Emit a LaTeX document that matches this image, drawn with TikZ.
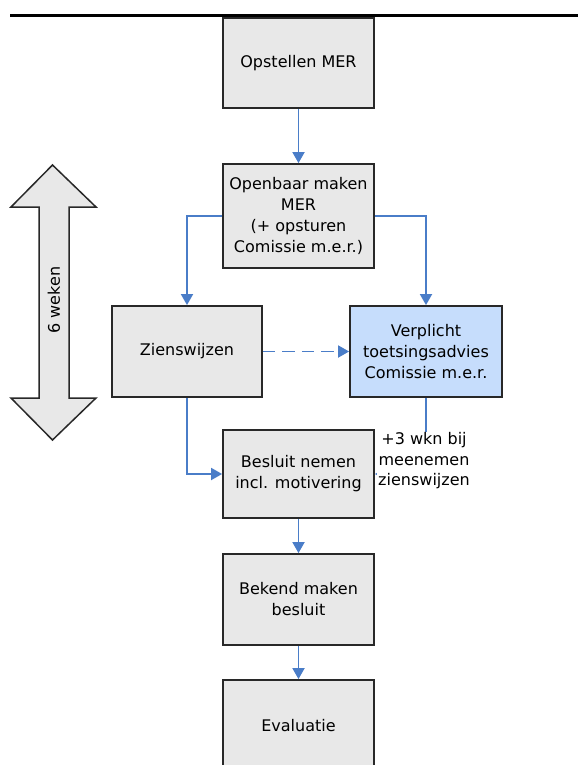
\documentclass[tikz,border=0pt]{standalone}
\usepackage{fontspec}
\setmainfont{DejaVu Sans}
\usetikzlibrary{arrows.meta}
\definecolor{boxfill}{RGB}{232,232,232}
\definecolor{boxline}{RGB}{40,40,40}
\definecolor{bluefill}{RGB}{198,221,252}
\definecolor{connblue}{RGB}{74,125,200}
\tikzset{
  box/.style={draw=boxline, fill=boxfill, line width=1.8pt, align=center, inner sep=2pt,
    font=\fontsize{16}{21}\selectfont},
  conn/.style={draw=connblue, line width=1.8pt, -{Triangle[length=11pt,width=12pt]}},
  lbl/.style={fill=white, align=center, inner sep=1pt, font=\fontsize{16}{20.5}\selectfont}
}
\begin{document}
\begin{tikzpicture}[x=1pt,y=-1pt]
\useasboundingbox (0,0) rectangle (578,765);
\fill[white] (0,0) rectangle (578,765);
% top rule
\draw[black, line width=3pt] (10,16) coordinate (rl) -- (578,16) coordinate (rr);
% boxes
\node[box, minimum width=151pt, minimum height=90pt] (b1) at (298.5,63) {Opstellen MER};
\node[box, minimum width=151pt, minimum height=104pt] (b2) at (298.5,216) {Openbaar maken\\MER\\(+ opsturen\\Comissie m.e.r.)};
\node[box, minimum width=150pt, minimum height=91pt] (zien) at (187,351.5) {Zienswijzen};
\node[box, fill=bluefill, minimum width=152pt, minimum height=91pt] (verp) at (426,351.5) {Verplicht\\toetsingsadvies\\Comissie m.e.r.};
\node[box, minimum width=151pt, minimum height=88pt] (besl) at (298.5,474) {Besluit nemen\\incl. motivering};
\node[box, minimum width=151pt, minimum height=91pt] (bek) at (298.5,599.5) {Bekend maken\\besluit};
\node[box, minimum width=151pt, minimum height=91pt] (eval) at (298.5,725.5) {Evaluatie};
% connectors
\draw[conn] (b1.south) -- (b2.north);
\draw[conn] (b2.west) -| (zien.north);
\draw[conn] (b2.east) -| (verp.north);
\draw[conn, dash pattern=on 12.5pt off 7pt] (zien.east) -- (verp.west);
\draw[conn] (zien.south) |- (besl.west);
\draw[conn] (verp.south) |- (besl.east);
\draw[conn] (besl.south) -- (bek.north);
\draw[conn] (bek.south) -- (eval.north);
\node[lbl] (note) at (424,461) {+3 wkn bij\\meenemen\\zienswijzen};
% big double arrow
\draw[boxline, fill=boxfill, line width=1.5pt, line join=miter]
  (52.5,165) -- (96,207) -- (69,207) -- (69,398) -- (96,398) -- (52.5,440)
  -- (11,398) -- (39,398) -- (39,207) -- (11,207) -- cycle;
\node[rotate=90, font=\fontsize{16}{20}\selectfont, inner sep=0pt] (weken) at (54,300) {6 weken};
\end{tikzpicture}
\end{document}
